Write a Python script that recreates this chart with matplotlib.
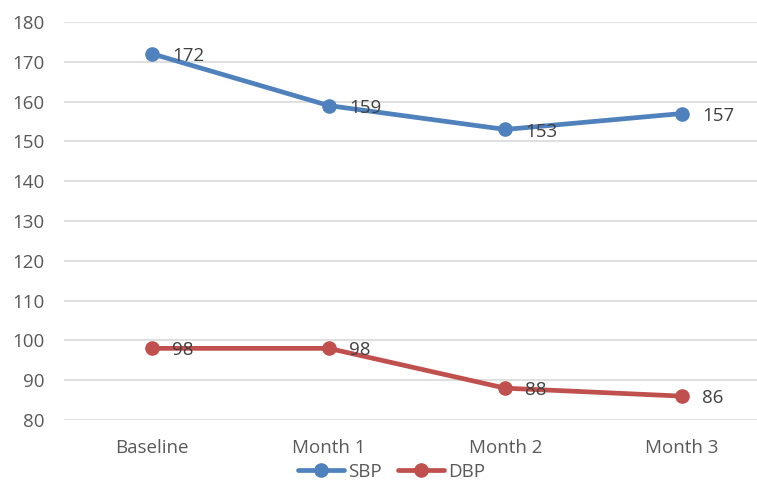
import matplotlib
matplotlib.use("Agg")
import matplotlib.pyplot as plt

categories = ["Baseline", "Month 1", "Month 2", "Month 3"]
sbp = [172, 159, 153, 157]
dbp = [98, 98, 88, 86]
yticks = list(range(80, 181, 10))

plt.rcParams['font.family'] = ['Open Sans', 'DejaVu Sans']

fig = plt.figure(figsize=(7.57, 4.82), dpi=100)
ax = fig.add_axes([64/757, 62/482, 706/757, 398/482])

x = list(range(len(categories)))
blue = "#4F81BD"
red = "#C0504D"
l1, = ax.plot(x, sbp, color=blue, lw=3.4, marker="o", ms=9.5, label="SBP", solid_capstyle="round")
l2, = ax.plot(x, dbp, color=red, lw=3.4, marker="o", ms=9.5, label="DBP", solid_capstyle="round")

for xi, v in zip(x, sbp):
    ax.annotate(str(v), (xi, v), xytext=(14.5, -1.5), textcoords="offset points",
                ha="left", va="center", fontsize=13.5, color="#404040")
for xi, v in zip(x, dbp):
    ax.annotate(str(v), (xi, v), xytext=(14.5, -1.5), textcoords="offset points",
                ha="left", va="center", fontsize=13.5, color="#404040")

ax.set_xlim(-0.5, len(categories) - 0.5)
ax.set_ylim(80, 180)
ax.set_yticks(yticks)
ax.set_xticks(x)
ax.set_xticklabels(categories)
ax.grid(axis="y", color="#D9D9D9", lw=1.2)
ax.set_axisbelow(True)
for s in ax.spines.values():
    s.set_visible(False)
ax.tick_params(axis="both", length=0, labelsize=13.5, labelcolor="#595959")
ax.tick_params(axis="y", pad=14)
ax.tick_params(axis="x", pad=14)

fig.legend(handles=[l1, l2], loc="center", bbox_to_anchor=(391.5/757, 1 - 472/482),
           ncol=2, frameon=False, fontsize=13.5, labelcolor="#595959",
           handlelength=2.45, handletextpad=0.2, columnspacing=0.9,
           borderaxespad=0, borderpad=0)

fig.savefig("out.png", dpi=100)
